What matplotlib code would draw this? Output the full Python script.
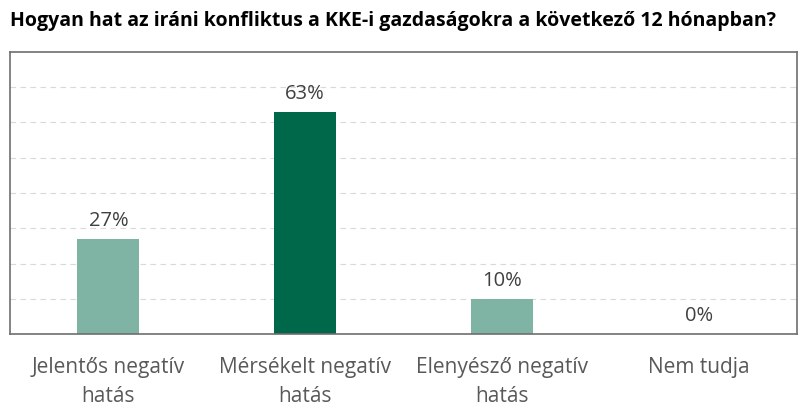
import matplotlib.pyplot as plt

# adatok
categories = ['Jelentős negatív\nhatás', 'Mérsékelt negatív\nhatás',
              'Elenyésző negatív\nhatás', 'Nem tudja']
values = [27, 63, 10, 0]
colors = ['#7fb3a3', '#00684a', '#7fb3a3', '#7fb3a3']

plt.rcParams['font.family'] = ['Open Sans', 'DejaVu Sans']

fig = plt.figure(figsize=(8.11, 4.2), dpi=100)
ax = fig.add_axes([10/811, 1 - 334/420, 787/811, 282/420])

x = range(len(categories))
ax.bar(x, values, width=0.315, color=colors, zorder=2)
for i, v in enumerate(values):
    ax.text(i, v + 2.3, f'{v}%', ha='center', va='bottom',
            fontsize=14.5, color='#404040')

ax.set_xlim(-0.5, 3.5)
ax.set_ylim(0, 80)
ax.set_yticks(range(10, 80, 10))
ax.yaxis.grid(True, linestyle=(0, (5, 4)), color='#d9d9d9', linewidth=0.8, zorder=0)
ax.tick_params(axis='y', left=False, labelleft=False)
ax.tick_params(axis='x', bottom=False, labelsize=15, labelcolor='#595959', pad=13)
ax.set_xticks(list(x))
ax.set_xticklabels(categories, linespacing=1.5)
for s in ax.spines.values():
    s.set_color('#6e6e6e')
    s.set_linewidth(1.2)

fig.text(10/811, 1 - 21/420, 'Hogyan hat az iráni konfliktus a KKE-i gazdaságokra a következő 12 hónapban?',
         fontsize=14, fontweight='bold', va='center', ha='left', color='black')

fig.savefig('out.png', dpi=100)
